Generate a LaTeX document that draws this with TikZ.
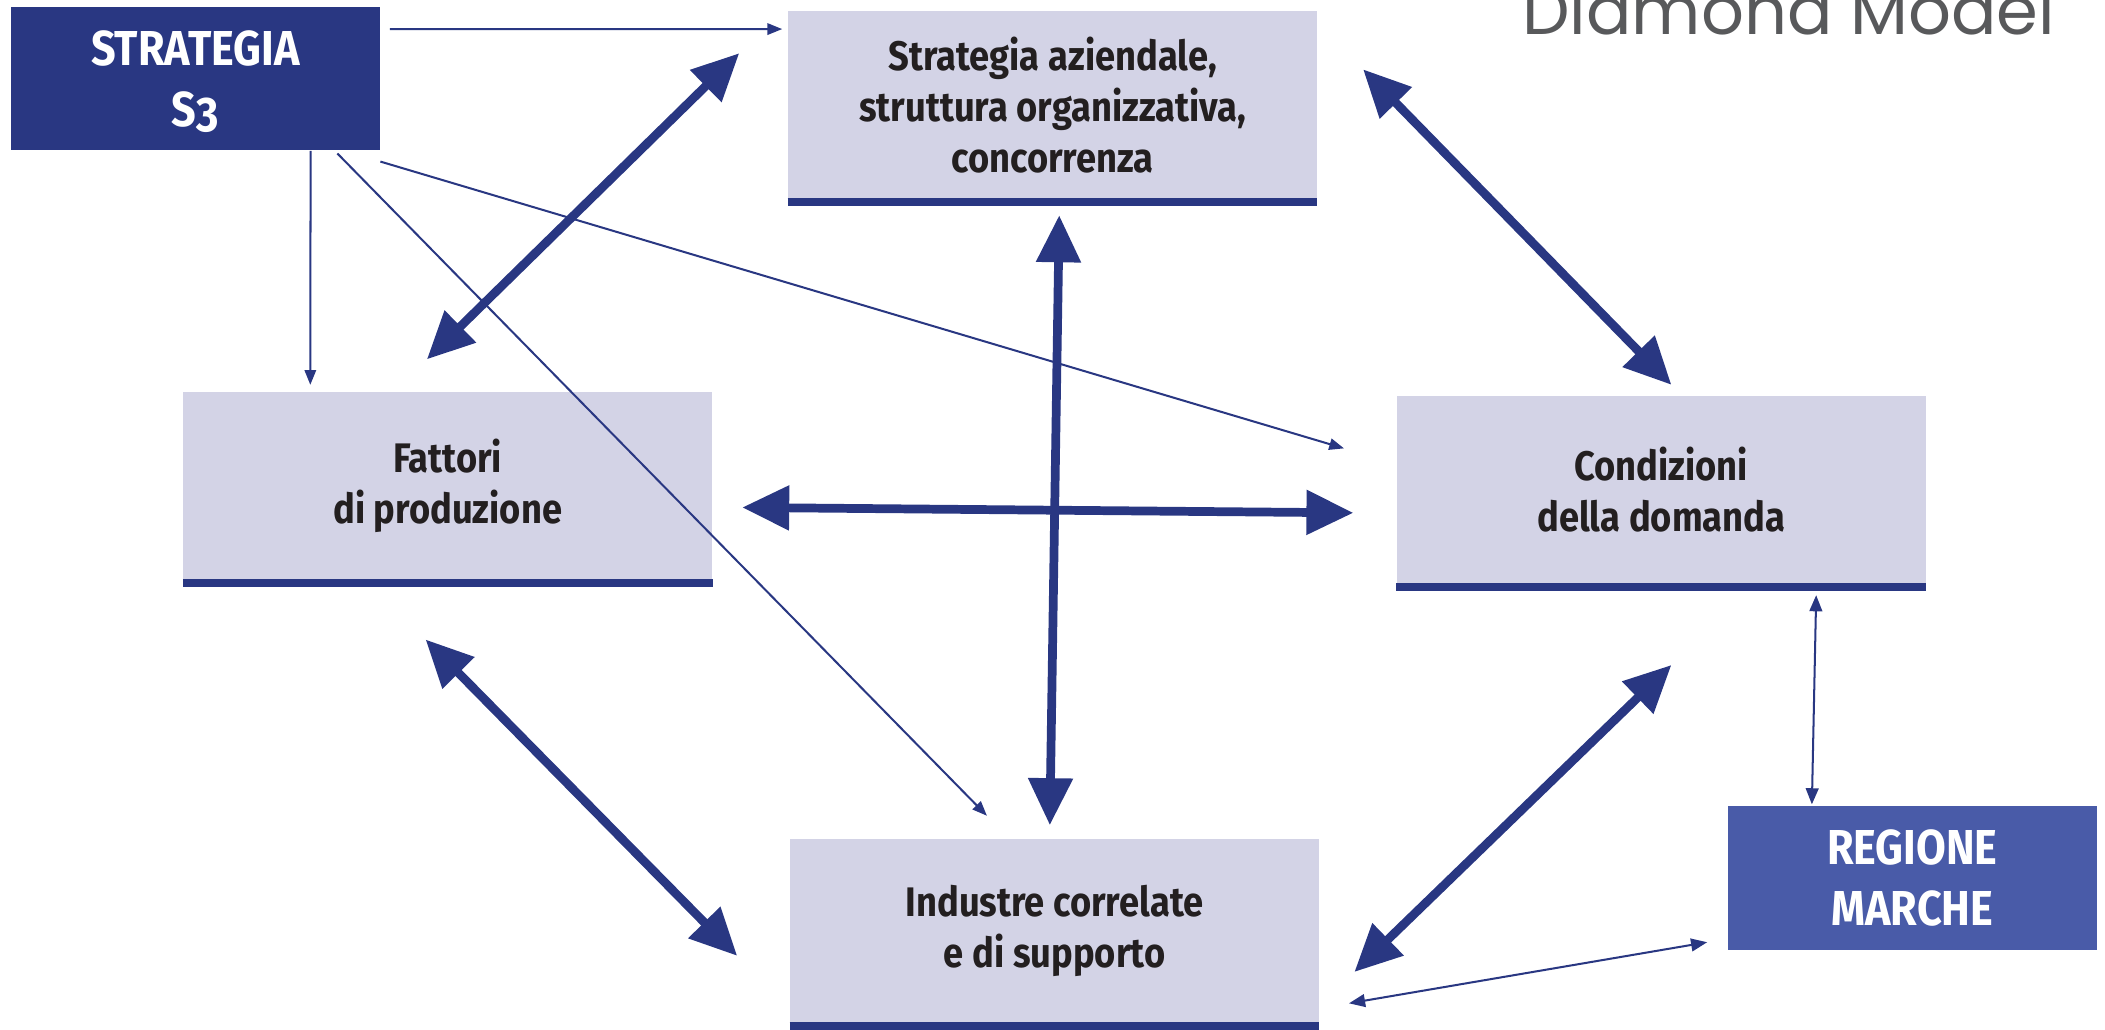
\documentclass[tikz,border=0pt]{standalone}
\usepackage{fontspec}
\setmainfont{Fira Sans}[FakeStretch=0.88]
\newfontfamily\titlefont{Poppins}
\usetikzlibrary{arrows.meta,calc}
\definecolor{navy}{RGB}{41,55,130}
\definecolor{lilac}{RGB}{211,211,230}
\definecolor{regblue}{RGB}{73,91,168}
\definecolor{titlegray}{RGB}{88,89,91}
\definecolor{ink}{RGB}{35,31,32}
\begin{document}
\begin{tikzpicture}[x=0.2mm,y=-0.2mm,
    factor/.style={fill=lilac,minimum width=78.8mm,minimum height=28mm,inner sep=0pt,
        align=center,text=ink,font=\bfseries\fontsize{17.5}{21.6}\selectfont},
    actor/.style={minimum width=55mm,minimum height=21.4mm,inner sep=0pt,
        align=center,text=white,font=\bfseries\fontsize{20.8}{26}\selectfont},
    bar/.style={navy,line width=1.2mm},
    big/.style={navy,line width=1.3mm,
        {Triangle[length=7mm,width=6.4mm]}-{Triangle[length=7mm,width=6.4mm]}},
    thin/.style={navy,line width=0.3mm,-{Triangle[length=2.2mm,width=1.7mm]}},
    thinboth/.style={navy,line width=0.3mm,
        {Triangle[length=2.4mm,width=1.9mm]}-{Triangle[length=2.4mm,width=1.9mm]}}]
    \useasboundingbox (0,0) rectangle (1568,767);

    % actors
    \node[actor,fill=navy] (s3) at (145.5,58.5)
        {STRATEGIA\\\smash{S{\addfontfeature{Numbers=OldStyle}3}}};
    \node[actor,fill=regblue] (reg) at (1424.5,654)
        {REGIONE\\MARCHE};

    % the four factors
    \node[factor] (top) at (784,78)
        {Strategia aziendale,\\struttura organizzativa,\\concorrenza};
    \node[factor] (fat) at (333.5,362) {Fattori\\di produzione};
    \node[factor] (cond) at (1237.5,365) {Condizioni\\della domanda};
    \node[factor,minimum height=27.4mm] (ind) at (785.5,693.5)
        {Industre correlate\\e di supporto};
    \foreach \f in {top,fat,cond,ind}
        \draw[bar] ($(\f.south west)+(0,2)$) -- ($(\f.south east)+(0,2)$);

    \node[anchor=base east,text=titlegray,font=\titlefont\fontsize{28.5}{28.5}\selectfont]
        (title) at (1537,26) {Diamond Model};

    % thick links between factors
    \draw[big] ($(fat.north)+(-15.5,-24)$) -- ($(top.north west)+(-36,32)$);
    \draw[big] ($(top.north east)+(34,44)$) -- ($(cond.north)+(7.5,-8)$);
    \draw[big] ($(top.south)+(5,12)$) -- ($(ind.north)+(-3.5,-10)$);
    \draw[big] ($(fat.east)+(22,16)$) -- ($(cond.west)+(-32,17)$);
    \draw[big] ($(fat.south)+(-16.5,44)$) -- ($(ind.west)+(-39,18.5)$);
    \draw[big] ($(ind.east)+(26,30.5)$) -- ($(cond.south)+(7.5,60)$);

    % strategia s3
    \draw[thin] ($(s3.north east)+(7,17)$) -- ($(top.north west)+(-4,14)$);
    \draw[thin] ($(s3.south east)+(-52,0)$) -- ($(fat.north west)+(95,-5)$);
    \draw[thin] ($(s3.south east)+(-32,2)$) -- ($(ind.north west)+(147,-17)$);
    \draw[thin] ($(s3.south east)+(0,8)$) -- ($(cond.west)+(-39,-31)$);

    % regione
    \draw[thinboth] ($(cond.south east)+(-82,8)$) -- ($(reg.north west)+(63,-1)$);
    \draw[thinboth] ($(ind.south east)+(22,-15)$) -- ($(reg.south west)+(-15,-6)$);
\end{tikzpicture}
\end{document}
